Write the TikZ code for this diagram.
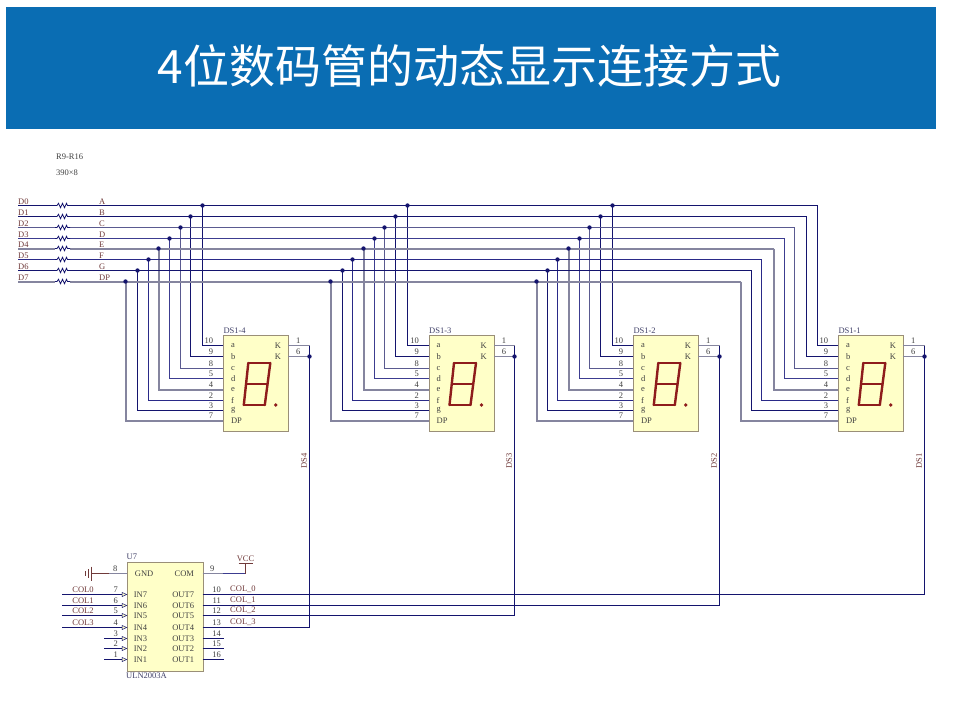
\documentclass[tikz,border=0pt]{standalone}
\usepackage{fontspec}
\setmainfont{Liberation Serif}
\newfontfamily\cjk{Noto Sans CJK SC}
\definecolor{hdr}{HTML}{0A6DB3}
\definecolor{navy}{HTML}{14146E}
\definecolor{wgray}{HTML}{85859F}
\definecolor{wmid}{HTML}{3C3C90}
\definecolor{wc1}{HTML}{14146E}
\definecolor{wc2}{HTML}{14146E}
\definecolor{wc3}{HTML}{5A5A90}
\definecolor{wc4}{HTML}{3C3C90}
\definecolor{wc5}{HTML}{85859F}
\definecolor{wc6}{HTML}{2A2A88}
\definecolor{wc7}{HTML}{14146E}
\definecolor{wc8}{HTML}{85859F}
\definecolor{txtred}{HTML}{703A3A}
\definecolor{txtblue}{HTML}{404068}
\definecolor{txtgray}{HTML}{404040}
\definecolor{segred}{HTML}{8E1C1C}
\definecolor{dispfill}{HTML}{FFFFC8}
\definecolor{dispedge}{HTML}{9A8F78}
\tikzset{
  wire/.code={\pgfmathsetmacro\lw{{1.4,1.4,1.6,1.6,2.0,1.5,1.5,2.0}[#1-1]}\tikzset{draw=wc#1,line width=\lw pt}},
  wdark/.style={draw=navy,line width=1.4pt},
  wgrey/.style={draw=wgray,line width=1.8pt},
  dispbox/.style={draw=dispedge,fill=dispfill,line width=0.8pt,inner sep=0pt,minimum width=65pt,minimum height=95.7pt},
  icbox/.style={draw=dispedge,fill=dispfill,line width=0.8pt,inner sep=0pt,minimum width=76pt,minimum height=108.4pt},
  lab/.style={inner sep=0pt,font=\fontsize{8.5}{8.5}\selectfont},
  redlab/.style={lab,text=txtred},
  bluelab/.style={lab,text=txtblue},
  graylab/.style={lab,text=txtgray},
  seg/.style={draw=segred,line width=2.4pt,line cap=round},
  jdot/.style={circle,fill=navy,inner sep=0pt,minimum size=4.4pt},
}
\newcommand{\dispunit}[5]{%
  % #1 id, #2 box left, #3 cathode wire x, #4 title, #5 riser x list
  \node[dispbox,anchor=north west] (disp#1) at (#2,335.3) {};
  \node[bluelab,anchor=south west] (title#1) at (#2,334) {#4};
  \foreach \vx/\pn/\inn [count=\i] in {#5} {
    \pgfmathsetmacro\by{{205.5,216.5,227.5,238.5,248.5,259.5,270.5,281.5}[\i-1]}
    \pgfmathsetmacro\py{{345.5,356.5,368.5,378.5,389.5,400.5,410.5,420.5}[\i-1]}
    \coordinate (j#1-\i) at (\vx,\by);
    \coordinate (p#1-\i) at (#2,\py);
    \draw[wire=\i] (j#1-\i) |- (p#1-\i);
    \node[graylab,anchor=south east] (pn#1-\i) at ([xshift=-10pt,yshift=1.5pt]p#1-\i) {\pn};
    \node[graylab,anchor=west] (in#1-\i) at ([xshift=7.5pt]p#1-\i) {\inn};
  }
  \coordinate (k#1) at (#3,345.5);
  \coordinate (kk#1) at (#3,356.5);
  \coordinate (ka#1) at ([xshift=65pt]#2,345.5);
  \coordinate (kb#1) at ([xshift=65pt]#2,356.5);
  \draw[wgrey] (ka#1) -- (k#1);
  \draw[wgrey] (kb#1) -- (kk#1);
  \node[graylab,anchor=south] (kn1#1) at ([xshift=10pt,yshift=1.5pt]ka#1) {1};
  \node[graylab,anchor=south] (kn2#1) at ([xshift=10pt,yshift=1.5pt]kb#1) {6};
  \node[graylab,anchor=east] (kt1#1) at ([xshift=-7pt]ka#1) {K};
  \node[graylab,anchor=east] (kt2#1) at ([xshift=-7pt]kb#1) {K};
  \node[jdot] (kd#1) at (kk#1) {};
  \begin{scope}[shift={(#2,0)}]
    \draw[seg] (25,363) -- (47,363);
    \draw[seg] (23,384) -- (44,384);
    \draw[seg] (20.5,405) -- (41.5,405);
    \draw[seg] (25,363) -- (20.5,405);
    \draw[seg] (47,363) -- (41.5,405);
    \fill[segred] (52.5,405) circle (1.9);
  \end{scope}
}
\begin{document}
\begin{tikzpicture}[x=1pt,y=-1pt]
\useasboundingbox (0,0) rectangle (953,717);
\fill[white] (0,0) rectangle (953,717);
\node[fill=hdr,minimum width=930pt,minimum height=122pt,inner sep=0pt,anchor=north west] (header) at (6,7) {};
\node[text=white,inner sep=0pt,font=\cjk\fontsize{46}{46}\selectfont] (maintitle) at (469.5,66) {4位数码管的动态显示连接方式};
\node[graylab,anchor=west] (rname) at (56,157) {R9-R16};
\node[graylab,anchor=west] (rval) at (56,173) {390×8};

\dispunit{1}{838.3}{924.5}{DS1-1}{817.5/10/a,806.5/9/b,794.5/8/c,784.5/5/d,773.5/4/e,761.5/2/f,751.5/3/g,740.5/7/DP}
\dispunit{2}{633.3}{719.5}{DS1-2}{612.5/10/a,600.5/9/b,589.5/8/c,579.5/5/d,568.5/4/e,557.5/2/f,547.5/3/g,536.5/7/DP}
\dispunit{3}{429}{514.5}{DS1-3}{407.5/10/a,395.5/9/b,384.5/8/c,374.5/5/d,363.5/4/e,352.5/2/f,342.5/3/g,330.5/7/DP}
\dispunit{4}{223.3}{309.5}{DS1-4}{202.5/10/a,190.5/9/b,180.5/8/c,169.5/5/d,158.5/4/e,148.5/2/f,137.5/3/g,125.5/7/DP}

% bus with resistors
\foreach \dn/\an [count=\i] in {D0/A,D1/B,D2/C,D3/D,D4/E,D5/F,D6/G,D7/DP} {
  \pgfmathsetmacro\by{{205.5,216.5,227.5,238.5,248.5,259.5,270.5,281.5}[\i-1]}
  \coordinate (L\i) at (18,\by);
  \coordinate (Ra\i) at (55,\by);
  \coordinate (Rb\i) at (70,\by);
  \draw[wire=\i] (L\i) -- (Ra\i);
  \draw[wire=\i] (Rb\i) -- (j1-\i);
  \draw[draw=navy,line width=0.8pt] (Ra\i) -- ++(2,0) -- ++(1.5,-2.2) -- ++(2,4.4) -- ++(2,-4.4) -- ++(2,4.4) -- ++(2,-4.4) -- ++(1,2.2) -- (Rb\i);
  \node[redlab,anchor=south west] (dn\i) at ([yshift=1pt]L\i) {\dn};
  \node[redlab,anchor=south west] (an\i) at ([xshift=81pt,yshift=1pt]L\i) {\an};
}
\foreach \d in {2,3,4} \foreach \i in {1,...,8} { \node[jdot] (jd\d-\i) at (j\d-\i) {}; }

% vertical labels
\node[redlab,rotate=90] (ds1) at (919,461) {DS1};
\node[redlab,rotate=90] (ds2) at (714,461) {DS2};
\node[redlab,rotate=90] (ds3) at (509,461) {DS3};
\node[redlab,rotate=90] (ds4) at (304,461) {DS4};

% ULN2003A
\node[icbox,anchor=north west] (U7) at (126.7,562.3) {};
\node[bluelab,anchor=south west] (u7name) at (126.5,560) {U7};
\node[bluelab,anchor=north west] (u7type) at (126,672.5) {ULN2003A};
\coordinate (gndpin) at (126.7,573.5);
\coordinate (compin) at (202.7,573.5);
\coordinate (gndend) at (91.7,573.5);
\coordinate (vccend) at (245.5,573.5);
\coordinate (vcctop) at (245.5,563.5);
\draw[wgrey] (gndpin) -- ++(-18,0);
\draw[draw=txtred,line width=1pt] ([xshift=-18pt]gndpin) -- (gndend);
\draw[draw=txtred,line width=1pt] (gndend) ++(0,-7) -- ++(0,14);
\draw[draw=txtred,line width=1pt] (gndend) ++(-3,-4.5) -- ++(0,9);
\draw[draw=txtred,line width=1pt] (gndend) ++(-6,-2.5) -- ++(0,5);
\draw[wgrey] (compin) -- ++(20,0);
\draw[draw=wmid,line width=1pt] ([xshift=20pt]compin) -- (vccend);
\draw[draw=txtred,line width=1pt] (vccend) -- (vcctop);
\draw[draw=txtred,line width=1pt] ([xshift=-7pt]vcctop) -- ([xshift=7pt]vcctop);
\node[redlab,anchor=south] (vcc) at ([yshift=2pt]vcctop) {VCC};
\node[graylab,anchor=south] (n8) at ([xshift=-11.5pt,yshift=2pt]gndpin) {8};
\node[graylab,anchor=south] (n9) at ([xshift=9.5pt,yshift=2pt]compin) {9};
\node[graylab,anchor=west] (gndt) at ([xshift=8pt]gndpin) {GND};
\node[graylab,anchor=east] (comt) at ([xshift=-8.5pt]compin) {COM};

\foreach \y/\inn/\outn/\lp/\rp [count=\i] in {594.5/IN7/OUT7/7/10,605.5/IN6/OUT6/6/11,615.5/IN5/OUT5/5/12,627.5/IN4/OUT4/4/13,638.5/IN3/OUT3/3/14,648.5/IN2/OUT2/2/15,659.5/IN1/OUT1/1/16} {
  \coordinate (ip\i) at (126.7,\y);
  \coordinate (op\i) at (202.7,\y);
  \draw[draw=navy,line width=0.5pt,fill=dispfill] (ip\i) -- ++(-4.5,-2) -- ++(0,4) -- cycle;
  \node[graylab,anchor=west] (int\i) at ([xshift=7pt]ip\i) {\inn};
  \node[graylab,anchor=east] (outt\i) at ([xshift=-8.5pt]op\i) {\outn};
  \node[graylab,anchor=south] (lpn\i) at ([xshift=-11pt,yshift=1.5pt]ip\i) {\lp};
  \node[graylab,anchor=south] (rpn\i) at ([xshift=14pt,yshift=1.5pt]op\i) {\rp};
}
\foreach \i in {1,2,3,4} { \coordinate (il\i) at (62,0 |- ip\i); \draw[wdark] (il\i) -- ([xshift=-4.5pt]ip\i); }
\foreach \i in {5,6,7} { \coordinate (il\i) at (104,0 |- ip\i); \draw[wdark] (il\i) -- ([xshift=-4.5pt]ip\i); }
\foreach \i in {5,6,7} { \coordinate (ol\i) at (224,0 |- op\i); \draw[wdark] (op\i) -- (ol\i); }
\foreach \i/\t in {1/COL0,2/COL1,3/COL2,4/COL3} {
  \node[redlab,anchor=south] (cl\i) at ([xshift=-43.7pt,yshift=1.5pt]ip\i) {\t};
}
\foreach \i/\t in {1/COL\_0,2/COL\_1,3/COL\_2,4/COL\_3} {
  \node[redlab,anchor=south west] (cr\i) at ([xshift=27.3pt,yshift=1.5pt]op\i) {\t};
}
\draw[wdark] (op1) -| (k1);
\draw[wdark] (op2) -| (k2);
\draw[wdark] (op3) -| (k3);
\draw[wdark] (op4) -| (k4);
\end{tikzpicture}
\end{document}
